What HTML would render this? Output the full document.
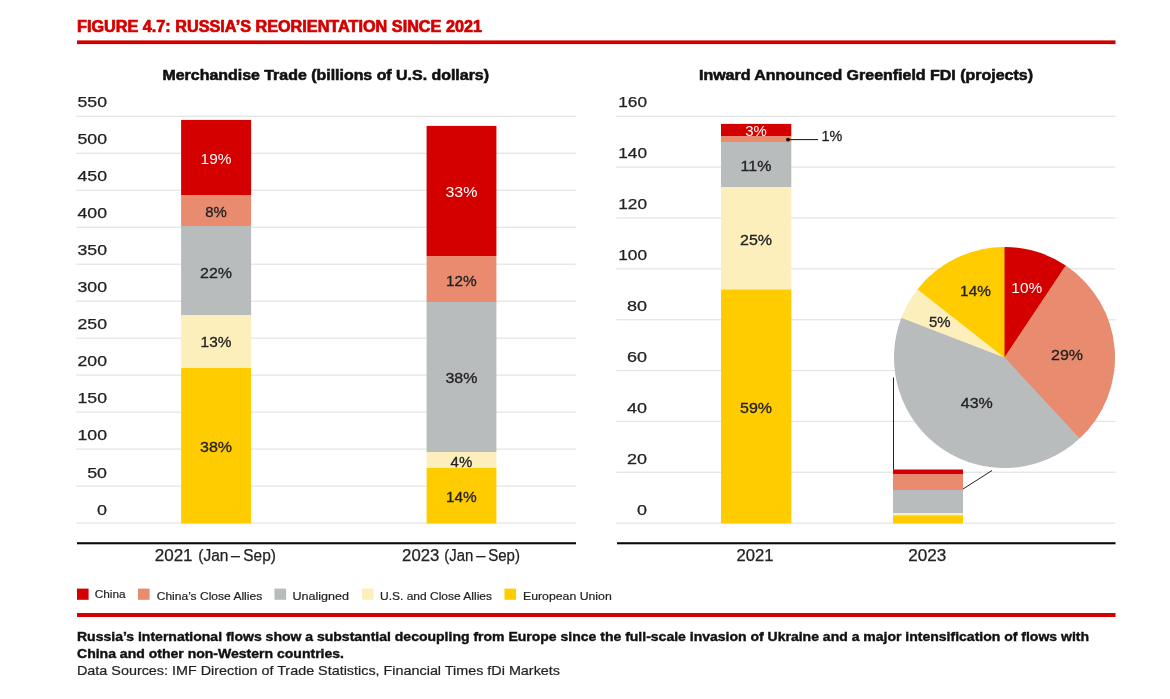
<!DOCTYPE html>
<html lang="en">
<head>
<meta charset="utf-8">
<title>Figure 4.7: Russia’s Reorientation Since 2021</title>
<style>
html,body{margin:0;padding:0;background:#fff;}
body{width:1170px;height:699px;overflow:hidden;}
svg{display:block;}
text{font-family:"Liberation Sans",sans-serif;fill:#222222;}
.b{font-weight:bold;}
.t{font-size:15.6px;fill:#d40000;font-weight:bold;stroke:#d40000;stroke-width:.7px;}
.ct{font-size:14.2px;font-weight:bold;fill:#111;stroke:#111;stroke-width:.55px;}
.y{font-size:15.3px;text-anchor:end;stroke:#222;stroke-width:.25px;}
.p{font-size:15.2px;text-anchor:middle;stroke:#222;stroke-width:.3px;}
.w{stroke:none;}
.w{fill:#fff;}
.x{font-size:15.8px;text-anchor:middle;stroke:#222;stroke-width:.25px;}
.xs{font-size:15.8px;stroke:#222;stroke-width:.25px;}
.l{font-size:11.7px;stroke:#222;stroke-width:.2px;}
.cb{font-size:13px;font-weight:bold;fill:#111;stroke:#111;stroke-width:.4px;}
.cs{font-size:13.4px;stroke:#222;stroke-width:.2px;}
</style>
</head>
<body>
<svg width="1170" height="699" viewBox="0 0 1170 699">
<rect x="0" y="0" width="1170" height="699" fill="#fff"/>
<text class="t" x="77" y="32" textLength="405" lengthAdjust="spacingAndGlyphs">FIGURE 4.7: RUSSIA’S REORIENTATION SINCE 2021</text>
<rect x="77" y="40.4" width="1038.5" height="3.7" fill="#d40000"/>
<text class="ct" x="162.5" y="80" textLength="326.5" lengthAdjust="spacingAndGlyphs">Merchandise Trade (billions of U.S. dollars)</text>
<text class="ct" x="699" y="80" textLength="334" lengthAdjust="spacingAndGlyphs">Inward Announced Greenfield FDI (projects)</text>
<rect x="76.3" y="115.65" width="499.6" height="1.3" fill="#e5e5e5"/>
<rect x="76.3" y="152.63" width="499.6" height="1.3" fill="#e5e5e5"/>
<rect x="76.3" y="189.61" width="499.6" height="1.3" fill="#e5e5e5"/>
<rect x="76.3" y="226.59" width="499.6" height="1.3" fill="#e5e5e5"/>
<rect x="76.3" y="263.57" width="499.6" height="1.3" fill="#e5e5e5"/>
<rect x="76.3" y="300.55" width="499.6" height="1.3" fill="#e5e5e5"/>
<rect x="76.3" y="337.53" width="499.6" height="1.3" fill="#e5e5e5"/>
<rect x="76.3" y="374.51" width="499.6" height="1.3" fill="#e5e5e5"/>
<rect x="76.3" y="411.49" width="499.6" height="1.3" fill="#e5e5e5"/>
<rect x="76.3" y="448.47" width="499.6" height="1.3" fill="#e5e5e5"/>
<rect x="76.3" y="485.45" width="499.6" height="1.3" fill="#e5e5e5"/>
<rect x="76.3" y="522.43" width="499.6" height="1.3" fill="#e5e5e5"/>
<text class="y" x="107" y="106.6" textLength="29.5" lengthAdjust="spacingAndGlyphs">550</text>
<text class="y" x="107" y="143.7" textLength="29.5" lengthAdjust="spacingAndGlyphs">500</text>
<text class="y" x="107" y="180.8" textLength="29.5" lengthAdjust="spacingAndGlyphs">450</text>
<text class="y" x="107" y="217.9" textLength="29.5" lengthAdjust="spacingAndGlyphs">400</text>
<text class="y" x="107" y="255.0" textLength="29.5" lengthAdjust="spacingAndGlyphs">350</text>
<text class="y" x="107" y="292.1" textLength="29.5" lengthAdjust="spacingAndGlyphs">300</text>
<text class="y" x="107" y="329.1" textLength="29.5" lengthAdjust="spacingAndGlyphs">250</text>
<text class="y" x="107" y="366.2" textLength="29.5" lengthAdjust="spacingAndGlyphs">200</text>
<text class="y" x="107" y="403.3" textLength="29.5" lengthAdjust="spacingAndGlyphs">150</text>
<text class="y" x="107" y="440.4" textLength="29.5" lengthAdjust="spacingAndGlyphs">100</text>
<text class="y" x="107" y="477.5" textLength="19.8" lengthAdjust="spacingAndGlyphs">50</text>
<text class="y" x="107" y="514.6" textLength="10" lengthAdjust="spacingAndGlyphs">0</text>
<rect x="616.3" y="115.65" width="499.2" height="1.3" fill="#e5e5e5"/>
<rect x="616.3" y="166.50" width="499.2" height="1.3" fill="#e5e5e5"/>
<rect x="616.3" y="217.35" width="499.2" height="1.3" fill="#e5e5e5"/>
<rect x="616.3" y="268.20" width="499.2" height="1.3" fill="#e5e5e5"/>
<rect x="616.3" y="319.05" width="499.2" height="1.3" fill="#e5e5e5"/>
<rect x="616.3" y="369.90" width="499.2" height="1.3" fill="#e5e5e5"/>
<rect x="616.3" y="420.75" width="499.2" height="1.3" fill="#e5e5e5"/>
<rect x="616.3" y="471.60" width="499.2" height="1.3" fill="#e5e5e5"/>
<rect x="616.3" y="522.45" width="499.2" height="1.3" fill="#e5e5e5"/>
<text class="y" x="647" y="106.6" textLength="28.8" lengthAdjust="spacingAndGlyphs">160</text>
<text class="y" x="647" y="157.6" textLength="28.8" lengthAdjust="spacingAndGlyphs">140</text>
<text class="y" x="647" y="208.6" textLength="28.8" lengthAdjust="spacingAndGlyphs">120</text>
<text class="y" x="647" y="259.6" textLength="28.8" lengthAdjust="spacingAndGlyphs">100</text>
<text class="y" x="647" y="310.6" textLength="20" lengthAdjust="spacingAndGlyphs">80</text>
<text class="y" x="647" y="361.6" textLength="20" lengthAdjust="spacingAndGlyphs">60</text>
<text class="y" x="647" y="412.6" textLength="20" lengthAdjust="spacingAndGlyphs">40</text>
<text class="y" x="647" y="463.6" textLength="20" lengthAdjust="spacingAndGlyphs">20</text>
<text class="y" x="647" y="514.6" textLength="10" lengthAdjust="spacingAndGlyphs">0</text>
<rect x="181.1" y="119.9" width="70" height="75.1" fill="#d40000"/>
<rect x="181.1" y="195" width="70" height="31" fill="#e98b6f"/>
<rect x="181.1" y="226" width="70" height="89" fill="#b8bcbc"/>
<rect x="181.1" y="315" width="70" height="53" fill="#fdefbb"/>
<rect x="181.1" y="368" width="70" height="155.5" fill="#ffcc00"/>
<rect x="426.6" y="125.9" width="69.8" height="130.1" fill="#d40000"/>
<rect x="426.6" y="256" width="69.8" height="46" fill="#e98b6f"/>
<rect x="426.6" y="302" width="69.8" height="150" fill="#b8bcbc"/>
<rect x="426.6" y="452" width="69.8" height="16" fill="#fdefbb"/>
<rect x="426.6" y="468" width="69.8" height="55.5" fill="#ffcc00"/>
<rect x="721" y="123.9" width="70.3" height="12.1" fill="#d40000"/>
<rect x="721" y="136" width="70.3" height="6" fill="#e98b6f"/>
<rect x="721" y="142" width="70.3" height="45" fill="#b8bcbc"/>
<rect x="721" y="187" width="70.3" height="102.5" fill="#fdefbb"/>
<rect x="721" y="289.5" width="70.3" height="234" fill="#ffcc00"/>
<rect x="893" y="469.5" width="70" height="5" fill="#d40000"/>
<rect x="893" y="474.5" width="70" height="15.5" fill="#e98b6f"/>
<rect x="893" y="490" width="70" height="23" fill="#b8bcbc"/>
<rect x="893" y="513" width="70" height="2.3" fill="#fdefbb"/>
<rect x="893" y="515.3" width="70" height="8.2" fill="#ffcc00"/>
<text class="p w" x="216" y="164" textLength="30.8" lengthAdjust="spacingAndGlyphs">19%</text>
<text class="p" x="216" y="217" textLength="21.6" lengthAdjust="spacingAndGlyphs">8%</text>
<text class="p" x="216" y="277.5" textLength="32" lengthAdjust="spacingAndGlyphs">22%</text>
<text class="p" x="216" y="347" textLength="30.8" lengthAdjust="spacingAndGlyphs">13%</text>
<text class="p" x="216" y="452" textLength="32" lengthAdjust="spacingAndGlyphs">38%</text>
<text class="p w" x="461.4" y="197" textLength="32" lengthAdjust="spacingAndGlyphs">33%</text>
<text class="p" x="461.4" y="286" textLength="30.8" lengthAdjust="spacingAndGlyphs">12%</text>
<text class="p" x="461.4" y="383" textLength="32" lengthAdjust="spacingAndGlyphs">38%</text>
<text class="p" x="461.4" y="467" textLength="21.6" lengthAdjust="spacingAndGlyphs">4%</text>
<text class="p" x="461.4" y="502" textLength="30.8" lengthAdjust="spacingAndGlyphs">14%</text>
<text class="p w" x="756" y="136" textLength="21.6" lengthAdjust="spacingAndGlyphs">3%</text>
<text class="p" x="756" y="171" textLength="30.8" lengthAdjust="spacingAndGlyphs">11%</text>
<text class="p" x="756" y="245" textLength="32" lengthAdjust="spacingAndGlyphs">25%</text>
<text class="p" x="756" y="413" textLength="32" lengthAdjust="spacingAndGlyphs">59%</text>
<circle cx="788" cy="139.6" r="1.9" fill="#111"/>
<rect x="788" y="139.1" width="30" height="1" fill="#111"/>
<text class="p" style="text-anchor:start" x="821.5" y="141" textLength="20.8" lengthAdjust="spacingAndGlyphs">1%</text>
<circle cx="1004.5" cy="357.5" r="109.9" fill="#b8bcbc"/>
<line x1="1004.5" y1="357.5" x2="1004.50" y2="247.60" stroke="#d40000" stroke-width="1.2"/>
<line x1="1004.5" y1="357.5" x2="1065.48" y2="266.07" stroke="#e98b6f" stroke-width="1.2"/>
<line x1="1004.5" y1="357.5" x2="1079.17" y2="438.14" stroke="#b8bcbc" stroke-width="1.2"/>
<line x1="1004.5" y1="357.5" x2="901.97" y2="317.94" stroke="#fdefbb" stroke-width="1.2"/>
<line x1="1004.5" y1="357.5" x2="918.13" y2="289.54" stroke="#ffcc00" stroke-width="1.2"/>
<path d="M1004.50 357.50 L1004.50 247.00 A110.5 110.5 0 0 1 1065.81 265.57 Z" fill="#d40000"/>
<path d="M1004.50 357.50 L1065.81 265.57 A110.5 110.5 0 0 1 1079.58 438.58 Z" fill="#e98b6f"/>
<path d="M1004.50 357.50 L1079.58 438.58 A110.5 110.5 0 0 1 901.41 317.72 Z" fill="#b8bcbc"/>
<path d="M1004.50 357.50 L901.41 317.72 A110.5 110.5 0 0 1 917.66 289.17 Z" fill="#fdefbb"/>
<path d="M1004.50 357.50 L917.66 289.17 A110.5 110.5 0 0 1 1004.50 247.00 Z" fill="#ffcc00"/>
<text class="p w" x="1026.75" y="292.5" textLength="30.8" lengthAdjust="spacingAndGlyphs">10%</text>
<text class="p" x="975.5" y="296" textLength="30.8" lengthAdjust="spacingAndGlyphs">14%</text>
<text class="p" x="939.75" y="327" textLength="21.6" lengthAdjust="spacingAndGlyphs">5%</text>
<text class="p" x="1067" y="360" textLength="32" lengthAdjust="spacingAndGlyphs">29%</text>
<text class="p" x="976.75" y="408" textLength="32" lengthAdjust="spacingAndGlyphs">43%</text>
<line x1="893.5" y1="377.5" x2="893.5" y2="469.5" stroke="#222" stroke-width="1"/>
<line x1="963" y1="489" x2="992" y2="470.5" stroke="#222" stroke-width="1"/>
<rect x="77" y="542.2" width="499" height="2.1" fill="#0a0a0a"/>
<rect x="617" y="542.2" width="498.5" height="2.1" fill="#0a0a0a"/>
<text class="xs" y="561"><tspan x="154.7" textLength="37.9" lengthAdjust="spacingAndGlyphs">2021</tspan> <tspan x="198.3" textLength="30.1" lengthAdjust="spacingAndGlyphs">(Jan</tspan> <tspan x="231.1" textLength="8.9" lengthAdjust="spacingAndGlyphs">–</tspan> <tspan x="243.3" textLength="32.6" lengthAdjust="spacingAndGlyphs">Sep)</tspan></text>
<text class="xs" y="561"><tspan x="402.1" textLength="37.3" lengthAdjust="spacingAndGlyphs">2023</tspan> <tspan x="444.3" textLength="29.0" lengthAdjust="spacingAndGlyphs">(Jan</tspan> <tspan x="476.3" textLength="9.2" lengthAdjust="spacingAndGlyphs">–</tspan> <tspan x="488.2" textLength="31.7" lengthAdjust="spacingAndGlyphs">Sep)</tspan></text>
<text class="x" x="755" y="561" textLength="37" lengthAdjust="spacingAndGlyphs">2021</text>
<text class="x" x="927.25" y="561" textLength="38" lengthAdjust="spacingAndGlyphs">2023</text>
<rect x="77" y="588.6" width="11.6" height="11.2" fill="#d40000"/>
<text class="l" x="94.7" y="598" textLength="31" lengthAdjust="spacingAndGlyphs">China</text>
<rect x="138" y="588.6" width="11.6" height="11.2" fill="#e98b6f"/>
<text class="l" x="156.7" y="600" textLength="105.5" lengthAdjust="spacingAndGlyphs">China’s Close Allies</text>
<rect x="274.5" y="588.6" width="11.6" height="11.2" fill="#b8bcbc"/>
<text class="l" x="292.5" y="600" textLength="56.5" lengthAdjust="spacingAndGlyphs">Unaligned</text>
<rect x="362" y="588.6" width="11.6" height="11.2" fill="#fdefbb"/>
<text class="l" x="380" y="600" textLength="112" lengthAdjust="spacingAndGlyphs">U.S. and Close Allies</text>
<rect x="504.5" y="588.6" width="11.6" height="11.2" fill="#ffcc00"/>
<text class="l" x="523" y="600" textLength="88.75" lengthAdjust="spacingAndGlyphs">European Union</text>
<rect x="77" y="613" width="1038.5" height="4" fill="#d40000"/>
<text class="cb" x="77" y="641" textLength="1012" lengthAdjust="spacingAndGlyphs">Russia’s international flows show a substantial decoupling from Europe since the full-scale invasion of Ukraine and a major intensification of flows with</text>
<text class="cb" x="77" y="658" textLength="267" lengthAdjust="spacingAndGlyphs">China and other non-Western countries.</text>
<text class="cs" x="77" y="674.7" textLength="483" lengthAdjust="spacingAndGlyphs">Data Sources: IMF Direction of Trade Statistics, Financial Times fDi Markets</text>
</svg>
</body>
</html>
